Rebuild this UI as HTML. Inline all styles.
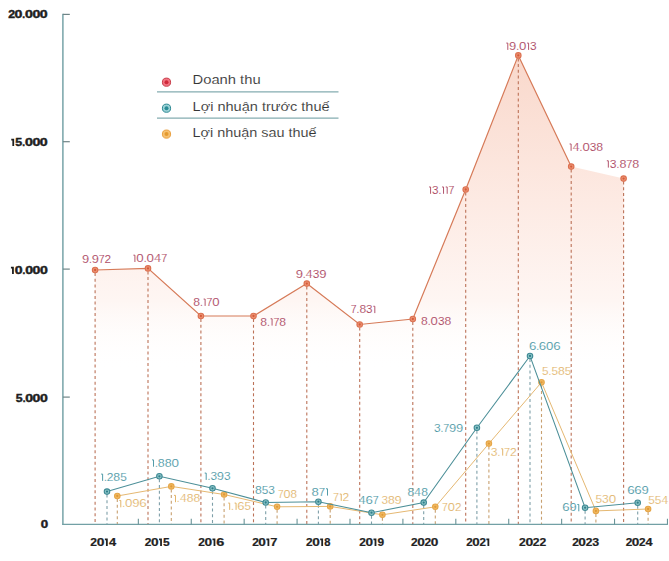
<!DOCTYPE html><html><head><meta charset="utf-8"><style>html,body{margin:0;padding:0;background:#fff;}svg{display:block;font-family:"Liberation Sans",sans-serif;}</style></head><body>
<svg width="669" height="561" viewBox="0 0 669 561">
<defs><linearGradient id="g" gradientUnits="userSpaceOnUse" x1="0" y1="55" x2="0" y2="370"><stop offset="0" stop-color="#f9d8cb"/><stop offset="0.46" stop-color="#fdeae3"/><stop offset="0.78" stop-color="#fef6f3"/><stop offset="1" stop-color="#fff" stop-opacity="0"/></linearGradient></defs>
<polygon points="95.1,524.4 95.1,270.0 148,268.4 200.9,316.0 253.5,316.0 306.8,283.6 359.7,324.5 412.8,319.0 465.7,189.5 518.3,55.4 571.2,166.6 623.6,178.6 623.6,524.4" fill="url(#g)"/>
<line x1="95.1" y1="273.0" x2="95.1" y2="524.4" stroke="#bc7258" stroke-width="1.1" stroke-dasharray="3 2.72"/>
<line x1="148" y1="271.4" x2="148" y2="524.4" stroke="#bc7258" stroke-width="1.1" stroke-dasharray="3 2.72"/>
<line x1="200.9" y1="319.0" x2="200.9" y2="524.4" stroke="#bc7258" stroke-width="1.1" stroke-dasharray="3 2.72"/>
<line x1="253.5" y1="319.0" x2="253.5" y2="524.4" stroke="#bc7258" stroke-width="1.1" stroke-dasharray="3 2.72"/>
<line x1="306.8" y1="286.6" x2="306.8" y2="524.4" stroke="#bc7258" stroke-width="1.1" stroke-dasharray="3 2.72"/>
<line x1="359.7" y1="327.5" x2="359.7" y2="524.4" stroke="#bc7258" stroke-width="1.1" stroke-dasharray="3 2.72"/>
<line x1="412.8" y1="322.0" x2="412.8" y2="524.4" stroke="#bc7258" stroke-width="1.1" stroke-dasharray="3 2.72"/>
<line x1="465.7" y1="192.5" x2="465.7" y2="524.4" stroke="#bc7258" stroke-width="1.1" stroke-dasharray="3 2.72"/>
<line x1="518.3" y1="58.4" x2="518.3" y2="524.4" stroke="#bc7258" stroke-width="1.1" stroke-dasharray="3 2.72"/>
<line x1="571.2" y1="169.6" x2="571.2" y2="524.4" stroke="#bc7258" stroke-width="1.1" stroke-dasharray="3 2.72"/>
<line x1="623.6" y1="181.6" x2="623.6" y2="524.4" stroke="#bc7258" stroke-width="1.1" stroke-dasharray="3 2.72"/>
<line x1="107" y1="494.6" x2="107" y2="524.4" stroke="#7e9fa8" stroke-width="1.1" stroke-dasharray="3 2.72"/>
<line x1="159.4" y1="479.3" x2="159.4" y2="524.4" stroke="#7e9fa8" stroke-width="1.1" stroke-dasharray="3 2.72"/>
<line x1="212.5" y1="491.3" x2="212.5" y2="524.4" stroke="#7e9fa8" stroke-width="1.1" stroke-dasharray="3 2.72"/>
<line x1="265.7" y1="505.5" x2="265.7" y2="524.4" stroke="#7e9fa8" stroke-width="1.1" stroke-dasharray="3 2.72"/>
<line x1="318.4" y1="504.7" x2="318.4" y2="524.4" stroke="#7e9fa8" stroke-width="1.1" stroke-dasharray="3 2.72"/>
<line x1="371.5" y1="515.7" x2="371.5" y2="524.4" stroke="#7e9fa8" stroke-width="1.1" stroke-dasharray="3 2.72"/>
<line x1="423.7" y1="505.6" x2="423.7" y2="524.4" stroke="#7e9fa8" stroke-width="1.1" stroke-dasharray="3 2.72"/>
<line x1="476.9" y1="430.8" x2="476.9" y2="524.4" stroke="#7e9fa8" stroke-width="1.1" stroke-dasharray="3 2.72"/>
<line x1="530" y1="359" x2="530" y2="524.4" stroke="#7e9fa8" stroke-width="1.1" stroke-dasharray="3 2.72"/>
<line x1="585.1" y1="510.7" x2="585.1" y2="524.4" stroke="#7e9fa8" stroke-width="1.1" stroke-dasharray="3 2.72"/>
<line x1="637.7" y1="505.7" x2="637.7" y2="524.4" stroke="#7e9fa8" stroke-width="1.1" stroke-dasharray="3 2.72"/>
<line x1="117.3" y1="499" x2="117.3" y2="524.4" stroke="#c8a070" stroke-width="1.1" stroke-dasharray="3 2.72"/>
<line x1="171.3" y1="489.4" x2="171.3" y2="524.4" stroke="#c8a070" stroke-width="1.1" stroke-dasharray="3 2.72"/>
<line x1="224.1" y1="497.5" x2="224.1" y2="524.4" stroke="#c8a070" stroke-width="1.1" stroke-dasharray="3 2.72"/>
<line x1="277.1" y1="509.8" x2="277.1" y2="524.4" stroke="#c8a070" stroke-width="1.1" stroke-dasharray="3 2.72"/>
<line x1="330.2" y1="509.4" x2="330.2" y2="524.4" stroke="#c8a070" stroke-width="1.1" stroke-dasharray="3 2.72"/>
<line x1="382.4" y1="517.8" x2="382.4" y2="524.4" stroke="#c8a070" stroke-width="1.1" stroke-dasharray="3 2.72"/>
<line x1="435.3" y1="509.8" x2="435.3" y2="524.4" stroke="#c8a070" stroke-width="1.1" stroke-dasharray="3 2.72"/>
<line x1="488.9" y1="446.6" x2="488.9" y2="524.4" stroke="#c8a070" stroke-width="1.1" stroke-dasharray="3 2.72"/>
<line x1="541.5" y1="385.3" x2="541.5" y2="524.4" stroke="#c8a070" stroke-width="1.1" stroke-dasharray="3 2.72"/>
<line x1="595.9" y1="513.9" x2="595.9" y2="524.4" stroke="#c8a070" stroke-width="1.1" stroke-dasharray="3 2.72"/>
<line x1="648.1" y1="512" x2="648.1" y2="524.4" stroke="#c8a070" stroke-width="1.1" stroke-dasharray="3 2.72"/>
<line x1="62.9" y1="13.8" x2="62.9" y2="524.4" stroke="#72a0a5" stroke-width="1.45"/>
<line x1="62.1" y1="524.4" x2="667.9" y2="524.4" stroke="#72a0a5" stroke-width="1.4"/>
<line x1="62.9" y1="14.4" x2="69.8" y2="14.4" stroke="#6f8486" stroke-width="1.2"/>
<line x1="62.9" y1="141.7" x2="69.8" y2="141.7" stroke="#6f8486" stroke-width="1.2"/>
<line x1="62.9" y1="269.1" x2="69.8" y2="269.1" stroke="#6f8486" stroke-width="1.2"/>
<line x1="62.9" y1="397.1" x2="69.8" y2="397.1" stroke="#6f8486" stroke-width="1.2"/>
<line x1="138.35" y1="518.7" x2="138.35" y2="524.4" stroke="#6a9498" stroke-width="1.1"/>
<line x1="191.26" y1="518.7" x2="191.26" y2="524.4" stroke="#6a9498" stroke-width="1.1"/>
<line x1="244.17" y1="518.7" x2="244.17" y2="524.4" stroke="#6a9498" stroke-width="1.1"/>
<line x1="297.08" y1="518.7" x2="297.08" y2="524.4" stroke="#6a9498" stroke-width="1.1"/>
<line x1="349.99" y1="518.7" x2="349.99" y2="524.4" stroke="#6a9498" stroke-width="1.1"/>
<line x1="402.9" y1="518.7" x2="402.9" y2="524.4" stroke="#6a9498" stroke-width="1.1"/>
<line x1="455.80999999999995" y1="518.7" x2="455.80999999999995" y2="524.4" stroke="#6a9498" stroke-width="1.1"/>
<line x1="508.72" y1="518.7" x2="508.72" y2="524.4" stroke="#6a9498" stroke-width="1.1"/>
<line x1="561.63" y1="518.7" x2="561.63" y2="524.4" stroke="#6a9498" stroke-width="1.1"/>
<line x1="614.54" y1="518.7" x2="614.54" y2="524.4" stroke="#6a9498" stroke-width="1.1"/>
<line x1="667.4499999999999" y1="518.7" x2="667.4499999999999" y2="524.4" stroke="#6a9498" stroke-width="1.1"/>
<polyline points="95.1,270.0 148,268.4 200.9,316.0 253.5,316.0 306.8,283.6 359.7,324.5 412.8,319.0 465.7,189.5 518.3,55.4 571.2,166.6" fill="none" stroke="#d67a58" stroke-width="1.2"/>
<circle cx="95.1" cy="270.0" r="2.75" fill="#eb9272" stroke="#dc7050" stroke-width="1.1"/><circle cx="95.1" cy="270.0" r="1.15" fill="#d65a3a"/>
<circle cx="148" cy="268.4" r="2.75" fill="#eb9272" stroke="#dc7050" stroke-width="1.1"/><circle cx="148" cy="268.4" r="1.15" fill="#d65a3a"/>
<circle cx="200.9" cy="316.0" r="2.75" fill="#eb9272" stroke="#dc7050" stroke-width="1.1"/><circle cx="200.9" cy="316.0" r="1.15" fill="#d65a3a"/>
<circle cx="253.5" cy="316.0" r="2.75" fill="#eb9272" stroke="#dc7050" stroke-width="1.1"/><circle cx="253.5" cy="316.0" r="1.15" fill="#d65a3a"/>
<circle cx="306.8" cy="283.6" r="2.75" fill="#eb9272" stroke="#dc7050" stroke-width="1.1"/><circle cx="306.8" cy="283.6" r="1.15" fill="#d65a3a"/>
<circle cx="359.7" cy="324.5" r="2.75" fill="#eb9272" stroke="#dc7050" stroke-width="1.1"/><circle cx="359.7" cy="324.5" r="1.15" fill="#d65a3a"/>
<circle cx="412.8" cy="319.0" r="2.75" fill="#eb9272" stroke="#dc7050" stroke-width="1.1"/><circle cx="412.8" cy="319.0" r="1.15" fill="#d65a3a"/>
<circle cx="465.7" cy="189.5" r="2.75" fill="#eb9272" stroke="#dc7050" stroke-width="1.1"/><circle cx="465.7" cy="189.5" r="1.15" fill="#d65a3a"/>
<circle cx="518.3" cy="55.4" r="2.75" fill="#eb9272" stroke="#dc7050" stroke-width="1.1"/><circle cx="518.3" cy="55.4" r="1.15" fill="#d65a3a"/>
<circle cx="571.2" cy="166.6" r="2.75" fill="#eb9272" stroke="#dc7050" stroke-width="1.1"/><circle cx="571.2" cy="166.6" r="1.15" fill="#d65a3a"/>
<circle cx="623.6" cy="178.6" r="2.75" fill="#eb9272" stroke="#dc7050" stroke-width="1.1"/><circle cx="623.6" cy="178.6" r="1.15" fill="#d65a3a"/>
<polyline points="117.3,496 171.3,486.4 224.1,494.5 277.1,506.8 330.2,506.4 382.4,514.8 435.3,506.8 488.9,443.6 541.5,382.3 595.9,510.9 648.1,509" fill="none" stroke="#e5b872" stroke-width="1.0"/>
<circle cx="117.3" cy="496" r="2.75" fill="#f0b860" stroke="#e6a648" stroke-width="1.1"/><circle cx="117.3" cy="496" r="1.15" fill="#e09a38"/>
<circle cx="171.3" cy="486.4" r="2.75" fill="#f0b860" stroke="#e6a648" stroke-width="1.1"/><circle cx="171.3" cy="486.4" r="1.15" fill="#e09a38"/>
<circle cx="224.1" cy="494.5" r="2.75" fill="#f0b860" stroke="#e6a648" stroke-width="1.1"/><circle cx="224.1" cy="494.5" r="1.15" fill="#e09a38"/>
<circle cx="277.1" cy="506.8" r="2.75" fill="#f0b860" stroke="#e6a648" stroke-width="1.1"/><circle cx="277.1" cy="506.8" r="1.15" fill="#e09a38"/>
<circle cx="330.2" cy="506.4" r="2.75" fill="#f0b860" stroke="#e6a648" stroke-width="1.1"/><circle cx="330.2" cy="506.4" r="1.15" fill="#e09a38"/>
<circle cx="382.4" cy="514.8" r="2.75" fill="#f0b860" stroke="#e6a648" stroke-width="1.1"/><circle cx="382.4" cy="514.8" r="1.15" fill="#e09a38"/>
<circle cx="435.3" cy="506.8" r="2.75" fill="#f0b860" stroke="#e6a648" stroke-width="1.1"/><circle cx="435.3" cy="506.8" r="1.15" fill="#e09a38"/>
<circle cx="488.9" cy="443.6" r="2.75" fill="#f0b860" stroke="#e6a648" stroke-width="1.1"/><circle cx="488.9" cy="443.6" r="1.15" fill="#e09a38"/>
<circle cx="541.5" cy="382.3" r="2.75" fill="#f0b860" stroke="#e6a648" stroke-width="1.1"/><circle cx="541.5" cy="382.3" r="1.15" fill="#e09a38"/>
<circle cx="595.9" cy="510.9" r="2.75" fill="#f0b860" stroke="#e6a648" stroke-width="1.1"/><circle cx="595.9" cy="510.9" r="1.15" fill="#e09a38"/>
<circle cx="648.1" cy="509" r="2.75" fill="#f0b860" stroke="#e6a648" stroke-width="1.1"/><circle cx="648.1" cy="509" r="1.15" fill="#e09a38"/>
<polyline points="107,491.6 159.4,476.3 212.5,488.3 265.7,502.5 318.4,501.7 371.5,512.7 423.7,502.6 476.9,427.8 530,356 585.1,507.7 637.7,502.7" fill="none" stroke="#4c8f98" stroke-width="1.05"/>
<circle cx="107" cy="491.6" r="2.75" fill="#8cc4c8" stroke="#3f8a94" stroke-width="1.1"/><circle cx="107" cy="491.6" r="1.15" fill="#2f7f8a"/>
<circle cx="159.4" cy="476.3" r="2.75" fill="#8cc4c8" stroke="#3f8a94" stroke-width="1.1"/><circle cx="159.4" cy="476.3" r="1.15" fill="#2f7f8a"/>
<circle cx="212.5" cy="488.3" r="2.75" fill="#8cc4c8" stroke="#3f8a94" stroke-width="1.1"/><circle cx="212.5" cy="488.3" r="1.15" fill="#2f7f8a"/>
<circle cx="265.7" cy="502.5" r="2.75" fill="#8cc4c8" stroke="#3f8a94" stroke-width="1.1"/><circle cx="265.7" cy="502.5" r="1.15" fill="#2f7f8a"/>
<circle cx="318.4" cy="501.7" r="2.75" fill="#8cc4c8" stroke="#3f8a94" stroke-width="1.1"/><circle cx="318.4" cy="501.7" r="1.15" fill="#2f7f8a"/>
<circle cx="371.5" cy="512.7" r="2.75" fill="#8cc4c8" stroke="#3f8a94" stroke-width="1.1"/><circle cx="371.5" cy="512.7" r="1.15" fill="#2f7f8a"/>
<circle cx="423.7" cy="502.6" r="2.75" fill="#8cc4c8" stroke="#3f8a94" stroke-width="1.1"/><circle cx="423.7" cy="502.6" r="1.15" fill="#2f7f8a"/>
<circle cx="476.9" cy="427.8" r="2.75" fill="#8cc4c8" stroke="#3f8a94" stroke-width="1.1"/><circle cx="476.9" cy="427.8" r="1.15" fill="#2f7f8a"/>
<circle cx="530" cy="356" r="2.75" fill="#8cc4c8" stroke="#3f8a94" stroke-width="1.1"/><circle cx="530" cy="356" r="1.15" fill="#2f7f8a"/>
<circle cx="585.1" cy="507.7" r="2.75" fill="#8cc4c8" stroke="#3f8a94" stroke-width="1.1"/><circle cx="585.1" cy="507.7" r="1.15" fill="#2f7f8a"/>
<circle cx="637.7" cy="502.7" r="2.75" fill="#8cc4c8" stroke="#3f8a94" stroke-width="1.1"/><circle cx="637.7" cy="502.7" r="1.15" fill="#2f7f8a"/>
<text transform="translate(82.06 262.70) scale(1.261 1)" font-size="10.2" fill="#ae4c66" stroke="#fff" stroke-width="0.07">9</text><text transform="translate(89.08 262.70) scale(1.000 1)" font-size="10.2" fill="#ae4c66" stroke="#fff" stroke-width="0.07">.</text><text transform="translate(91.75 262.70) scale(1.261 1)" font-size="10.2" fill="#ae4c66" stroke="#fff" stroke-width="0.07">9</text><text transform="translate(98.78 262.70) scale(1.033 1)" font-size="10.2" fill="#ae4c66" stroke="#fff" stroke-width="0.07">7</text><text transform="translate(104.55 262.70) scale(1.162 1)" font-size="10.2" fill="#ae4c66" stroke="#fff" stroke-width="0.07">2</text>
<path d="M133.42 255.18H134.92V262.00" fill="none" stroke="#ae4c66" stroke-width="0.95" stroke-linejoin="miter"/><text transform="translate(136.30 262.00) scale(1.312 1)" font-size="10.2" fill="#ae4c66" stroke="#fff" stroke-width="0.07">0</text><text transform="translate(143.76 262.00) scale(1.000 1)" font-size="10.2" fill="#ae4c66" stroke="#fff" stroke-width="0.07">.</text><text transform="translate(146.57 262.00) scale(1.312 1)" font-size="10.2" fill="#ae4c66" stroke="#fff" stroke-width="0.07">0</text><text transform="translate(154.30 262.00) scale(1.192 1)" font-size="10.2" fill="#ae4c66" stroke="#fff" stroke-width="0.07">4</text><text transform="translate(161.22 262.00) scale(1.052 1)" font-size="10.2" fill="#ae4c66" stroke="#fff" stroke-width="0.07">7</text>
<text transform="translate(193.32 305.90) scale(1.197 1)" font-size="10.2" fill="#ae4c66" stroke="#fff" stroke-width="0.07">8</text><text transform="translate(200.01 305.90) scale(1.000 1)" font-size="10.2" fill="#ae4c66" stroke="#fff" stroke-width="0.07">.</text><path d="M203.62 299.08H205.12V305.90" fill="none" stroke="#ae4c66" stroke-width="0.95" stroke-linejoin="miter"/><text transform="translate(206.48 305.90) scale(1.036 1)" font-size="10.2" fill="#ae4c66" stroke="#fff" stroke-width="0.07">7</text><text transform="translate(212.34 305.90) scale(1.292 1)" font-size="10.2" fill="#ae4c66" stroke="#fff" stroke-width="0.07">0</text>
<text transform="translate(260.32 325.60) scale(1.192 1)" font-size="10.2" fill="#ae4c66" stroke="#fff" stroke-width="0.07">8</text><text transform="translate(266.98 325.60) scale(1.000 1)" font-size="10.2" fill="#ae4c66" stroke="#fff" stroke-width="0.07">.</text><path d="M270.57 318.78H272.07V325.60" fill="none" stroke="#ae4c66" stroke-width="0.95" stroke-linejoin="miter"/><text transform="translate(273.42 325.60) scale(1.032 1)" font-size="10.2" fill="#ae4c66" stroke="#fff" stroke-width="0.07">7</text><text transform="translate(279.30 325.60) scale(1.192 1)" font-size="10.2" fill="#ae4c66" stroke="#fff" stroke-width="0.07">8</text>
<text transform="translate(295.65 277.90) scale(1.276 1)" font-size="10.2" fill="#ae4c66" stroke="#fff" stroke-width="0.07">9</text><text transform="translate(302.77 277.90) scale(1.000 1)" font-size="10.2" fill="#ae4c66" stroke="#fff" stroke-width="0.07">.</text><text transform="translate(305.87 277.90) scale(1.184 1)" font-size="10.2" fill="#ae4c66" stroke="#fff" stroke-width="0.07">4</text><text transform="translate(312.80 277.90) scale(1.174 1)" font-size="10.2" fill="#ae4c66" stroke="#fff" stroke-width="0.07">3</text><text transform="translate(319.26 277.90) scale(1.276 1)" font-size="10.2" fill="#ae4c66" stroke="#fff" stroke-width="0.07">9</text>
<text transform="translate(350.78 313.10) scale(1.026 1)" font-size="10.2" fill="#ae4c66" stroke="#fff" stroke-width="0.07">7</text><text transform="translate(356.56 313.10) scale(1.000 1)" font-size="10.2" fill="#ae4c66" stroke="#fff" stroke-width="0.07">.</text><text transform="translate(359.38 313.10) scale(1.185 1)" font-size="10.2" fill="#ae4c66" stroke="#fff" stroke-width="0.07">8</text><text transform="translate(366.06 313.10) scale(1.152 1)" font-size="10.2" fill="#ae4c66" stroke="#fff" stroke-width="0.07">3</text><path d="M373.32 306.28H374.82V313.10" fill="none" stroke="#ae4c66" stroke-width="0.95" stroke-linejoin="miter"/>
<text transform="translate(421.12 324.80) scale(1.194 1)" font-size="10.2" fill="#ae4c66" stroke="#fff" stroke-width="0.07">8</text><text transform="translate(427.79 324.80) scale(1.000 1)" font-size="10.2" fill="#ae4c66" stroke="#fff" stroke-width="0.07">.</text><text transform="translate(430.58 324.80) scale(1.289 1)" font-size="10.2" fill="#ae4c66" stroke="#fff" stroke-width="0.07">0</text><text transform="translate(437.94 324.80) scale(1.161 1)" font-size="10.2" fill="#ae4c66" stroke="#fff" stroke-width="0.07">3</text><text transform="translate(444.48 324.80) scale(1.194 1)" font-size="10.2" fill="#ae4c66" stroke="#fff" stroke-width="0.07">8</text>
<path d="M429.09 186.98H430.59V193.80" fill="none" stroke="#ae4c66" stroke-width="0.95" stroke-linejoin="miter"/><text transform="translate(431.99 193.80) scale(1.156 1)" font-size="10.2" fill="#ae4c66" stroke="#fff" stroke-width="0.07">3</text><text transform="translate(438.45 193.80) scale(1.000 1)" font-size="10.2" fill="#ae4c66" stroke="#fff" stroke-width="0.07">.</text><path d="M442.04 186.98H443.54V193.80" fill="none" stroke="#ae4c66" stroke-width="0.95" stroke-linejoin="miter"/><path d="M445.69 186.98H447.19V193.80" fill="none" stroke="#ae4c66" stroke-width="0.95" stroke-linejoin="miter"/><text transform="translate(448.54 193.80) scale(1.029 1)" font-size="10.2" fill="#ae4c66" stroke="#fff" stroke-width="0.07">7</text>
<path d="M506.30 43.08H507.80V49.90" fill="none" stroke="#ae4c66" stroke-width="0.95" stroke-linejoin="miter"/><text transform="translate(509.05 49.90) scale(1.270 1)" font-size="10.2" fill="#ae4c66" stroke="#fff" stroke-width="0.07">9</text><text transform="translate(516.13 49.90) scale(1.000 1)" font-size="10.2" fill="#ae4c66" stroke="#fff" stroke-width="0.07">.</text><text transform="translate(518.93 49.90) scale(1.297 1)" font-size="10.2" fill="#ae4c66" stroke="#fff" stroke-width="0.07">0</text><path d="M527.10 43.08H528.60V49.90" fill="none" stroke="#ae4c66" stroke-width="0.95" stroke-linejoin="miter"/><text transform="translate(530.02 49.90) scale(1.168 1)" font-size="10.2" fill="#ae4c66" stroke="#fff" stroke-width="0.07">3</text>
<path d="M569.60 143.98H571.10V150.80" fill="none" stroke="#ae4c66" stroke-width="0.95" stroke-linejoin="miter"/><text transform="translate(572.75 150.80) scale(1.177 1)" font-size="10.2" fill="#ae4c66" stroke="#fff" stroke-width="0.07">4</text><text transform="translate(579.58 150.80) scale(1.000 1)" font-size="10.2" fill="#ae4c66" stroke="#fff" stroke-width="0.07">.</text><text transform="translate(582.38 150.80) scale(1.295 1)" font-size="10.2" fill="#ae4c66" stroke="#fff" stroke-width="0.07">0</text><text transform="translate(589.77 150.80) scale(1.167 1)" font-size="10.2" fill="#ae4c66" stroke="#fff" stroke-width="0.07">3</text><text transform="translate(596.35 150.80) scale(1.200 1)" font-size="10.2" fill="#ae4c66" stroke="#fff" stroke-width="0.07">8</text>
<path d="M606.83 160.78H608.33V167.60" fill="none" stroke="#ae4c66" stroke-width="0.95" stroke-linejoin="miter"/><text transform="translate(609.79 167.60) scale(1.194 1)" font-size="10.2" fill="#ae4c66" stroke="#fff" stroke-width="0.07">3</text><text transform="translate(616.52 167.60) scale(1.000 1)" font-size="10.2" fill="#ae4c66" stroke="#fff" stroke-width="0.07">.</text><text transform="translate(619.38 167.60) scale(1.228 1)" font-size="10.2" fill="#ae4c66" stroke="#fff" stroke-width="0.07">8</text><text transform="translate(626.25 167.60) scale(1.063 1)" font-size="10.2" fill="#ae4c66" stroke="#fff" stroke-width="0.07">7</text><text transform="translate(632.31 167.60) scale(1.228 1)" font-size="10.2" fill="#ae4c66" stroke="#fff" stroke-width="0.07">8</text>
<path d="M101.11 474.08H102.61V480.90" fill="none" stroke="#4896a3" stroke-width="0.95" stroke-linejoin="miter"/><text transform="translate(103.99 480.90) scale(1.000 1)" font-size="10.2" fill="#4896a3" stroke="#fff" stroke-width="0.12">.</text><text transform="translate(106.72 480.90) scale(1.175 1)" font-size="10.2" fill="#4896a3" stroke="#fff" stroke-width="0.12">2</text><text transform="translate(113.34 480.90) scale(1.206 1)" font-size="10.2" fill="#4896a3" stroke="#fff" stroke-width="0.12">8</text><text transform="translate(120.15 480.90) scale(1.162 1)" font-size="10.2" fill="#4896a3" stroke="#fff" stroke-width="0.12">5</text>
<path d="M152.02 459.88H153.52V466.70" fill="none" stroke="#4896a3" stroke-width="0.95" stroke-linejoin="miter"/><text transform="translate(154.94 466.70) scale(1.000 1)" font-size="10.2" fill="#4896a3" stroke="#fff" stroke-width="0.12">.</text><text transform="translate(157.80 466.70) scale(1.221 1)" font-size="10.2" fill="#4896a3" stroke="#fff" stroke-width="0.12">8</text><text transform="translate(164.67 466.70) scale(1.221 1)" font-size="10.2" fill="#4896a3" stroke="#fff" stroke-width="0.12">8</text><text transform="translate(171.50 466.70) scale(1.318 1)" font-size="10.2" fill="#4896a3" stroke="#fff" stroke-width="0.12">0</text>
<path d="M204.70 473.08H206.20V479.90" fill="none" stroke="#4896a3" stroke-width="0.95" stroke-linejoin="miter"/><text transform="translate(207.56 479.90) scale(1.000 1)" font-size="10.2" fill="#4896a3" stroke="#fff" stroke-width="0.12">.</text><text transform="translate(210.40 479.90) scale(1.165 1)" font-size="10.2" fill="#4896a3" stroke="#fff" stroke-width="0.12">3</text><text transform="translate(216.82 479.90) scale(1.267 1)" font-size="10.2" fill="#4896a3" stroke="#fff" stroke-width="0.12">9</text><text transform="translate(223.93 479.90) scale(1.165 1)" font-size="10.2" fill="#4896a3" stroke="#fff" stroke-width="0.12">3</text>
<text transform="translate(254.92 494.00) scale(1.200 1)" font-size="10.2" fill="#4896a3" stroke="#fff" stroke-width="0.12">8</text><text transform="translate(261.69 494.00) scale(1.156 1)" font-size="10.2" fill="#4896a3" stroke="#fff" stroke-width="0.12">5</text><text transform="translate(268.22 494.00) scale(1.167 1)" font-size="10.2" fill="#4896a3" stroke="#fff" stroke-width="0.12">3</text>
<text transform="translate(311.58 495.60) scale(1.285 1)" font-size="10.2" fill="#4896a3" stroke="#fff" stroke-width="0.12">8</text><text transform="translate(318.77 495.60) scale(1.112 1)" font-size="10.2" fill="#4896a3" stroke="#fff" stroke-width="0.12">7</text><path d="M326.01 488.78H327.51V495.60" fill="none" stroke="#4896a3" stroke-width="0.95" stroke-linejoin="miter"/>
<text transform="translate(358.86 504.10) scale(1.183 1)" font-size="10.2" fill="#4896a3" stroke="#fff" stroke-width="0.12">4</text><text transform="translate(365.60 504.10) scale(1.306 1)" font-size="10.2" fill="#4896a3" stroke="#fff" stroke-width="0.12">6</text><text transform="translate(372.86 504.10) scale(1.044 1)" font-size="10.2" fill="#4896a3" stroke="#fff" stroke-width="0.12">7</text>
<text transform="translate(407.42 496.00) scale(1.186 1)" font-size="10.2" fill="#4896a3" stroke="#fff" stroke-width="0.12">8</text><text transform="translate(414.34 496.00) scale(1.163 1)" font-size="10.2" fill="#4896a3" stroke="#fff" stroke-width="0.12">4</text><text transform="translate(421.13 496.00) scale(1.186 1)" font-size="10.2" fill="#4896a3" stroke="#fff" stroke-width="0.12">8</text>
<text transform="translate(433.93 431.60) scale(1.168 1)" font-size="10.2" fill="#4896a3" stroke="#fff" stroke-width="0.12">3</text><text transform="translate(440.47 431.60) scale(1.000 1)" font-size="10.2" fill="#4896a3" stroke="#fff" stroke-width="0.12">.</text><text transform="translate(443.27 431.60) scale(1.040 1)" font-size="10.2" fill="#4896a3" stroke="#fff" stroke-width="0.12">7</text><text transform="translate(449.03 431.60) scale(1.270 1)" font-size="10.2" fill="#4896a3" stroke="#fff" stroke-width="0.12">9</text><text transform="translate(455.99 431.60) scale(1.270 1)" font-size="10.2" fill="#4896a3" stroke="#fff" stroke-width="0.12">9</text>
<text transform="translate(528.94 350.00) scale(1.298 1)" font-size="10.2" fill="#4896a3" stroke="#fff" stroke-width="0.12">6</text><text transform="translate(536.16 350.00) scale(1.000 1)" font-size="10.2" fill="#4896a3" stroke="#fff" stroke-width="0.12">.</text><text transform="translate(538.82 350.00) scale(1.298 1)" font-size="10.2" fill="#4896a3" stroke="#fff" stroke-width="0.12">6</text><text transform="translate(546.04 350.00) scale(1.294 1)" font-size="10.2" fill="#4896a3" stroke="#fff" stroke-width="0.12">0</text><text transform="translate(553.25 350.00) scale(1.298 1)" font-size="10.2" fill="#4896a3" stroke="#fff" stroke-width="0.12">6</text>
<text transform="translate(562.34 511.30) scale(1.295 1)" font-size="10.2" fill="#4896a3" stroke="#fff" stroke-width="0.12">6</text><text transform="translate(569.43 511.30) scale(1.266 1)" font-size="10.2" fill="#4896a3" stroke="#fff" stroke-width="0.12">9</text><path d="M577.30 504.48H578.80V511.30" fill="none" stroke="#4896a3" stroke-width="0.95" stroke-linejoin="miter"/>
<text transform="translate(627.14 493.80) scale(1.308 1)" font-size="10.2" fill="#4896a3" stroke="#fff" stroke-width="0.12">6</text><text transform="translate(634.28 493.80) scale(1.308 1)" font-size="10.2" fill="#4896a3" stroke="#fff" stroke-width="0.12">6</text><text transform="translate(641.44 493.80) scale(1.278 1)" font-size="10.2" fill="#4896a3" stroke="#fff" stroke-width="0.12">9</text>
<path d="M119.31 500.48H120.81V507.30" fill="none" stroke="#e0b062" stroke-width="0.95" stroke-linejoin="miter"/><text transform="translate(122.22 507.30) scale(1.000 1)" font-size="10.2" fill="#e0b062" stroke="#fff" stroke-width="0.15">.</text><text transform="translate(125.03 507.30) scale(1.311 1)" font-size="10.2" fill="#e0b062" stroke="#fff" stroke-width="0.15">0</text><text transform="translate(132.34 507.30) scale(1.284 1)" font-size="10.2" fill="#e0b062" stroke="#fff" stroke-width="0.15">9</text><text transform="translate(139.36 507.30) scale(1.314 1)" font-size="10.2" fill="#e0b062" stroke="#fff" stroke-width="0.15">6</text>
<path d="M173.99 495.38H175.49V502.20" fill="none" stroke="#e0b062" stroke-width="0.95" stroke-linejoin="miter"/><text transform="translate(176.82 502.20) scale(1.000 1)" font-size="10.2" fill="#e0b062" stroke="#fff" stroke-width="0.15">.</text><text transform="translate(179.89 502.20) scale(1.167 1)" font-size="10.2" fill="#e0b062" stroke="#fff" stroke-width="0.15">4</text><text transform="translate(186.71 502.20) scale(1.190 1)" font-size="10.2" fill="#e0b062" stroke="#fff" stroke-width="0.15">8</text><text transform="translate(193.40 502.20) scale(1.190 1)" font-size="10.2" fill="#e0b062" stroke="#fff" stroke-width="0.15">8</text>
<path d="M228.18 503.08H229.68V509.90" fill="none" stroke="#e0b062" stroke-width="0.95" stroke-linejoin="miter"/><text transform="translate(231.00 509.90) scale(1.000 1)" font-size="10.2" fill="#e0b062" stroke="#fff" stroke-width="0.15">.</text><path d="M234.57 503.08H236.07V509.90" fill="none" stroke="#e0b062" stroke-width="0.95" stroke-linejoin="miter"/><text transform="translate(237.28 509.90) scale(1.281 1)" font-size="10.2" fill="#e0b062" stroke="#fff" stroke-width="0.15">6</text><text transform="translate(244.46 509.90) scale(1.140 1)" font-size="10.2" fill="#e0b062" stroke="#fff" stroke-width="0.15">5</text>
<text transform="translate(277.90 497.80) scale(0.991 1)" font-size="10.2" fill="#e0b062" stroke="#fff" stroke-width="0.15">7</text><text transform="translate(283.50 497.80) scale(1.236 1)" font-size="10.2" fill="#e0b062" stroke="#fff" stroke-width="0.15">0</text><text transform="translate(290.54 497.80) scale(1.145 1)" font-size="10.2" fill="#e0b062" stroke="#fff" stroke-width="0.15">8</text>
<text transform="translate(332.97 500.90) scale(1.049 1)" font-size="10.2" fill="#e0b062" stroke="#fff" stroke-width="0.15">7</text><path d="M339.74 494.08H341.24V500.90" fill="none" stroke="#e0b062" stroke-width="0.95" stroke-linejoin="miter"/><text transform="translate(342.56 500.90) scale(1.180 1)" font-size="10.2" fill="#e0b062" stroke="#fff" stroke-width="0.15">2</text>
<text transform="translate(381.43 504.10) scale(1.160 1)" font-size="10.2" fill="#e0b062" stroke="#fff" stroke-width="0.15">3</text><text transform="translate(387.97 504.10) scale(1.193 1)" font-size="10.2" fill="#e0b062" stroke="#fff" stroke-width="0.15">8</text><text transform="translate(394.53 504.10) scale(1.262 1)" font-size="10.2" fill="#e0b062" stroke="#fff" stroke-width="0.15">9</text>
<text transform="translate(442.09 510.70) scale(1.016 1)" font-size="10.2" fill="#e0b062" stroke="#fff" stroke-width="0.15">7</text><text transform="translate(447.83 510.70) scale(1.267 1)" font-size="10.2" fill="#e0b062" stroke="#fff" stroke-width="0.15">0</text><text transform="translate(454.95 510.70) scale(1.143 1)" font-size="10.2" fill="#e0b062" stroke="#fff" stroke-width="0.15">2</text>
<text transform="translate(490.82 455.60) scale(1.189 1)" font-size="10.2" fill="#e0b062" stroke="#fff" stroke-width="0.15">3</text><text transform="translate(497.51 455.60) scale(1.000 1)" font-size="10.2" fill="#e0b062" stroke="#fff" stroke-width="0.15">.</text><path d="M501.19 448.78H502.69V455.60" fill="none" stroke="#e0b062" stroke-width="0.95" stroke-linejoin="miter"/><text transform="translate(504.09 455.60) scale(1.058 1)" font-size="10.2" fill="#e0b062" stroke="#fff" stroke-width="0.15">7</text><text transform="translate(510.00 455.60) scale(1.191 1)" font-size="10.2" fill="#e0b062" stroke="#fff" stroke-width="0.15">2</text>
<text transform="translate(542.03 374.70) scale(1.157 1)" font-size="10.2" fill="#e0b062" stroke="#fff" stroke-width="0.15">5</text><text transform="translate(548.52 374.70) scale(1.000 1)" font-size="10.2" fill="#e0b062" stroke="#fff" stroke-width="0.15">.</text><text transform="translate(551.38 374.70) scale(1.157 1)" font-size="10.2" fill="#e0b062" stroke="#fff" stroke-width="0.15">5</text><text transform="translate(557.90 374.70) scale(1.201 1)" font-size="10.2" fill="#e0b062" stroke="#fff" stroke-width="0.15">8</text><text transform="translate(564.68 374.70) scale(1.157 1)" font-size="10.2" fill="#e0b062" stroke="#fff" stroke-width="0.15">5</text>
<text transform="translate(595.43 502.80) scale(1.175 1)" font-size="10.2" fill="#e0b062" stroke="#fff" stroke-width="0.15">5</text><text transform="translate(602.07 502.80) scale(1.185 1)" font-size="10.2" fill="#e0b062" stroke="#fff" stroke-width="0.15">3</text><text transform="translate(608.71 502.80) scale(1.316 1)" font-size="10.2" fill="#e0b062" stroke="#fff" stroke-width="0.15">0</text>
<text transform="translate(648.13 504.10) scale(1.161 1)" font-size="10.2" fill="#e0b062" stroke="#fff" stroke-width="0.15">5</text><text transform="translate(654.70 504.10) scale(1.161 1)" font-size="10.2" fill="#e0b062" stroke="#fff" stroke-width="0.15">5</text><text transform="translate(661.50 504.10) scale(1.182 1)" font-size="10.2" fill="#e0b062" stroke="#fff" stroke-width="0.15">4</text>
<text transform="translate(8.13 17.60) scale(1.229 1)" font-size="10.0" fill="#1e1e1e" font-weight="bold" stroke="#1e1e1e" stroke-width="0.4">2</text><text transform="translate(14.56 17.60) scale(1.412 1)" font-size="10.0" fill="#1e1e1e" font-weight="bold" stroke="#1e1e1e" stroke-width="0.4">0</text><text transform="translate(22.33 17.60) scale(1.000 1)" font-size="10.0" fill="#1e1e1e" font-weight="bold" stroke="#1e1e1e" stroke-width="0.4">.</text><text transform="translate(25.00 17.60) scale(1.412 1)" font-size="10.0" fill="#1e1e1e" font-weight="bold" stroke="#1e1e1e" stroke-width="0.4">0</text><text transform="translate(32.38 17.60) scale(1.412 1)" font-size="10.0" fill="#1e1e1e" font-weight="bold" stroke="#1e1e1e" stroke-width="0.4">0</text><text transform="translate(39.76 17.60) scale(1.412 1)" font-size="10.0" fill="#1e1e1e" font-weight="bold" stroke="#1e1e1e" stroke-width="0.4">0</text>
<path d="M11.26 139.55H13.26V146.10" fill="none" stroke="#1e1e1e" stroke-width="1.8" stroke-linejoin="miter"/><text transform="translate(15.34 146.10) scale(1.244 1)" font-size="10.0" fill="#1e1e1e" font-weight="bold" stroke="#1e1e1e" stroke-width="0.4">5</text><text transform="translate(22.37 146.10) scale(1.000 1)" font-size="10.0" fill="#1e1e1e" font-weight="bold" stroke="#1e1e1e" stroke-width="0.4">.</text><text transform="translate(25.04 146.10) scale(1.415 1)" font-size="10.0" fill="#1e1e1e" font-weight="bold" stroke="#1e1e1e" stroke-width="0.4">0</text><text transform="translate(32.44 146.10) scale(1.415 1)" font-size="10.0" fill="#1e1e1e" font-weight="bold" stroke="#1e1e1e" stroke-width="0.4">0</text><text transform="translate(39.84 146.10) scale(1.415 1)" font-size="10.0" fill="#1e1e1e" font-weight="bold" stroke="#1e1e1e" stroke-width="0.4">0</text>
<path d="M10.94 267.55H12.94V274.10" fill="none" stroke="#1e1e1e" stroke-width="1.8" stroke-linejoin="miter"/><text transform="translate(14.82 274.10) scale(1.405 1)" font-size="10.0" fill="#1e1e1e" font-weight="bold" stroke="#1e1e1e" stroke-width="0.4">0</text><text transform="translate(22.55 274.10) scale(1.000 1)" font-size="10.0" fill="#1e1e1e" font-weight="bold" stroke="#1e1e1e" stroke-width="0.4">.</text><text transform="translate(25.21 274.10) scale(1.405 1)" font-size="10.0" fill="#1e1e1e" font-weight="bold" stroke="#1e1e1e" stroke-width="0.4">0</text><text transform="translate(32.55 274.10) scale(1.405 1)" font-size="10.0" fill="#1e1e1e" font-weight="bold" stroke="#1e1e1e" stroke-width="0.4">0</text><text transform="translate(39.90 274.10) scale(1.405 1)" font-size="10.0" fill="#1e1e1e" font-weight="bold" stroke="#1e1e1e" stroke-width="0.4">0</text>
<text transform="translate(15.73 401.80) scale(1.228 1)" font-size="10.0" fill="#1e1e1e" font-weight="bold" stroke="#1e1e1e" stroke-width="0.4">5</text><text transform="translate(22.66 401.80) scale(1.000 1)" font-size="10.0" fill="#1e1e1e" font-weight="bold" stroke="#1e1e1e" stroke-width="0.4">.</text><text transform="translate(25.31 401.80) scale(1.398 1)" font-size="10.0" fill="#1e1e1e" font-weight="bold" stroke="#1e1e1e" stroke-width="0.4">0</text><text transform="translate(32.62 401.80) scale(1.398 1)" font-size="10.0" fill="#1e1e1e" font-weight="bold" stroke="#1e1e1e" stroke-width="0.4">0</text><text transform="translate(39.93 401.80) scale(1.398 1)" font-size="10.0" fill="#1e1e1e" font-weight="bold" stroke="#1e1e1e" stroke-width="0.4">0</text>
<text transform="translate(40.67 527.90) scale(1.333 1)" font-size="10.0" fill="#1e1e1e" font-weight="bold" stroke="#1e1e1e" stroke-width="0.4">0</text>
<text transform="translate(90.34 546.00) scale(1.182 1)" font-size="10.2" fill="#222222" font-weight="bold" stroke="#222222" stroke-width="0.2">2</text><text transform="translate(96.64 546.00) scale(1.357 1)" font-size="10.2" fill="#222222" font-weight="bold" stroke="#222222" stroke-width="0.2">0</text><path d="M104.85 539.31H106.85V546.00" fill="none" stroke="#222222" stroke-width="1.8" stroke-linejoin="miter"/><text transform="translate(108.99 546.00) scale(1.268 1)" font-size="10.2" fill="#222222" font-weight="bold" stroke="#222222" stroke-width="0.2">4</text>
<text transform="translate(144.74 546.00) scale(1.166 1)" font-size="10.2" fill="#222222" font-weight="bold" stroke="#222222" stroke-width="0.2">2</text><text transform="translate(150.96 546.00) scale(1.339 1)" font-size="10.2" fill="#222222" font-weight="bold" stroke="#222222" stroke-width="0.2">0</text><path d="M159.03 539.31H161.03V546.00" fill="none" stroke="#222222" stroke-width="1.8" stroke-linejoin="miter"/><text transform="translate(163.04 546.00) scale(1.177 1)" font-size="10.2" fill="#222222" font-weight="bold" stroke="#222222" stroke-width="0.2">5</text>
<text transform="translate(198.14 546.00) scale(1.169 1)" font-size="10.2" fill="#222222" font-weight="bold" stroke="#222222" stroke-width="0.2">2</text><text transform="translate(204.38 546.00) scale(1.343 1)" font-size="10.2" fill="#222222" font-weight="bold" stroke="#222222" stroke-width="0.2">0</text><path d="M212.48 539.31H214.48V546.00" fill="none" stroke="#222222" stroke-width="1.8" stroke-linejoin="miter"/><text transform="translate(216.27 546.00) scale(1.419 1)" font-size="10.2" fill="#222222" font-weight="bold" stroke="#222222" stroke-width="0.2">6</text>
<text transform="translate(252.14 546.00) scale(1.164 1)" font-size="10.2" fill="#222222" font-weight="bold" stroke="#222222" stroke-width="0.2">2</text><text transform="translate(258.36 546.00) scale(1.338 1)" font-size="10.2" fill="#222222" font-weight="bold" stroke="#222222" stroke-width="0.2">0</text><path d="M266.41 539.31H268.41V546.00" fill="none" stroke="#222222" stroke-width="1.8" stroke-linejoin="miter"/><text transform="translate(270.26 546.00) scale(1.257 1)" font-size="10.2" fill="#222222" font-weight="bold" stroke="#222222" stroke-width="0.2">7</text>
<text transform="translate(305.94 546.00) scale(1.162 1)" font-size="10.2" fill="#222222" font-weight="bold" stroke="#222222" stroke-width="0.2">2</text><text transform="translate(312.14 546.00) scale(1.335 1)" font-size="10.2" fill="#222222" font-weight="bold" stroke="#222222" stroke-width="0.2">0</text><path d="M320.18 539.31H322.18V546.00" fill="none" stroke="#222222" stroke-width="1.8" stroke-linejoin="miter"/><text transform="translate(324.20 546.00) scale(1.091 1)" font-size="10.2" fill="#222222" font-weight="bold" stroke="#222222" stroke-width="0.2">8</text>
<text transform="translate(359.24 546.00) scale(1.163 1)" font-size="10.2" fill="#222222" font-weight="bold" stroke="#222222" stroke-width="0.2">2</text><text transform="translate(365.45 546.00) scale(1.336 1)" font-size="10.2" fill="#222222" font-weight="bold" stroke="#222222" stroke-width="0.2">0</text><path d="M373.50 539.31H375.50V546.00" fill="none" stroke="#222222" stroke-width="1.8" stroke-linejoin="miter"/><text transform="translate(377.50 546.00) scale(1.169 1)" font-size="10.2" fill="#222222" font-weight="bold" stroke="#222222" stroke-width="0.2">9</text>
<text transform="translate(410.94 546.00) scale(1.165 1)" font-size="10.2" fill="#222222" font-weight="bold" stroke="#222222" stroke-width="0.2">2</text><text transform="translate(417.16 546.00) scale(1.338 1)" font-size="10.2" fill="#222222" font-weight="bold" stroke="#222222" stroke-width="0.2">0</text><text transform="translate(424.49 546.00) scale(1.165 1)" font-size="10.2" fill="#222222" font-weight="bold" stroke="#222222" stroke-width="0.2">2</text><text transform="translate(430.70 546.00) scale(1.338 1)" font-size="10.2" fill="#222222" font-weight="bold" stroke="#222222" stroke-width="0.2">0</text>
<text transform="translate(466.25 546.00) scale(1.136 1)" font-size="10.2" fill="#222222" font-weight="bold" stroke="#222222" stroke-width="0.2">2</text><text transform="translate(472.31 546.00) scale(1.305 1)" font-size="10.2" fill="#222222" font-weight="bold" stroke="#222222" stroke-width="0.2">0</text><text transform="translate(479.45 546.00) scale(1.136 1)" font-size="10.2" fill="#222222" font-weight="bold" stroke="#222222" stroke-width="0.2">2</text><path d="M486.37 539.31H488.37V546.00" fill="none" stroke="#222222" stroke-width="1.8" stroke-linejoin="miter"/>
<text transform="translate(519.04 546.00) scale(1.189 1)" font-size="10.2" fill="#222222" font-weight="bold" stroke="#222222" stroke-width="0.2">2</text><text transform="translate(525.38 546.00) scale(1.366 1)" font-size="10.2" fill="#222222" font-weight="bold" stroke="#222222" stroke-width="0.2">0</text><text transform="translate(532.86 546.00) scale(1.189 1)" font-size="10.2" fill="#222222" font-weight="bold" stroke="#222222" stroke-width="0.2">2</text><text transform="translate(539.39 546.00) scale(1.189 1)" font-size="10.2" fill="#222222" font-weight="bold" stroke="#222222" stroke-width="0.2">2</text>
<text transform="translate(572.14 546.00) scale(1.167 1)" font-size="10.2" fill="#222222" font-weight="bold" stroke="#222222" stroke-width="0.2">2</text><text transform="translate(578.37 546.00) scale(1.341 1)" font-size="10.2" fill="#222222" font-weight="bold" stroke="#222222" stroke-width="0.2">0</text><text transform="translate(585.71 546.00) scale(1.167 1)" font-size="10.2" fill="#222222" font-weight="bold" stroke="#222222" stroke-width="0.2">2</text><text transform="translate(592.24 546.00) scale(1.218 1)" font-size="10.2" fill="#222222" font-weight="bold" stroke="#222222" stroke-width="0.2">3</text>
<text transform="translate(625.65 546.00) scale(1.156 1)" font-size="10.2" fill="#222222" font-weight="bold" stroke="#222222" stroke-width="0.2">2</text><text transform="translate(631.82 546.00) scale(1.328 1)" font-size="10.2" fill="#222222" font-weight="bold" stroke="#222222" stroke-width="0.2">0</text><text transform="translate(639.08 546.00) scale(1.156 1)" font-size="10.2" fill="#222222" font-weight="bold" stroke="#222222" stroke-width="0.2">2</text><text transform="translate(645.54 546.00) scale(1.240 1)" font-size="10.2" fill="#222222" font-weight="bold" stroke="#222222" stroke-width="0.2">4</text>
<line x1="157" y1="91.8" x2="338.5" y2="91.8" stroke="#84acb0" stroke-width="1.3"/>
<line x1="157" y1="118.2" x2="338.5" y2="118.2" stroke="#84acb0" stroke-width="1.3"/>
<circle cx="166.5" cy="82.2" r="4.1" fill="#f27482" stroke="#c8404c" stroke-width="1"/><circle cx="166.5" cy="82.2" r="2" fill="#d0283a"/>
<circle cx="166.5" cy="108.2" r="4.1" fill="#9cd2d6" stroke="#2f8a94" stroke-width="1"/><circle cx="166.5" cy="108.2" r="2" fill="#2a8c96"/>
<circle cx="166.5" cy="134.1" r="4.1" fill="#f6c070" stroke="#eaa040" stroke-width="1"/><circle cx="166.5" cy="134.1" r="2" fill="#e49a30"/>
<text x="192.6" y="84" font-size="13.2" fill="#363636" stroke="#fff" stroke-width="0.1" textLength="68" lengthAdjust="spacingAndGlyphs">Doanh thu</text>
<text x="192.6" y="110.6" font-size="13.2" fill="#363636" stroke="#fff" stroke-width="0.1" textLength="137" lengthAdjust="spacingAndGlyphs">Lợi nhuận trước thuế</text>
<text x="192.6" y="136.5" font-size="13.2" fill="#363636" stroke="#fff" stroke-width="0.1" textLength="124" lengthAdjust="spacingAndGlyphs">Lợi nhuận sau thuế</text>
</svg></body></html>
